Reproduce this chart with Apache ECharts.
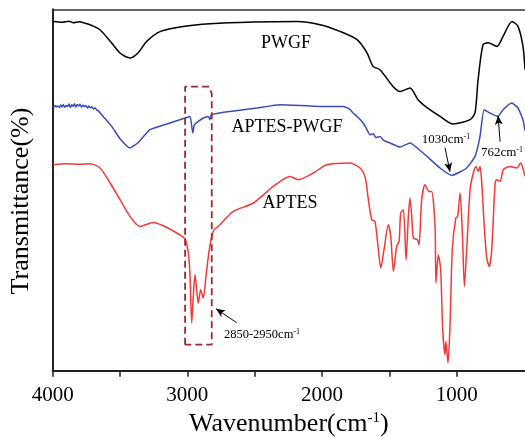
<!DOCTYPE html>
<html><head><meta charset="utf-8">
<script src="https://cdn.jsdelivr.net/npm/echarts@6/dist/echarts.min.js"></script>
<style>html,body{margin:0;padding:0;background:#fff}#c{width:525px;height:437px}</style>
</head><body><div id="c"></div>
<script>
// x: wavenumber (cm-1), y: transmittance (arbitrary offset units)
const xTicks = [4000, 3500, 3000, 2500, 2000, 1500, 1000];
const xLabels = [4000, 3000, 2000, 1000];

const pwgf = [
  [3996,349.3],[3930,348.5],[3880,349.5],[3850,348],[3800,349],[3760,347.5],[3723,346],[3649,341],[3562,327.7],[3500,317.7],
  [3426,312.7],[3367,317.7],[3302,329.3],[3199,339.3],[3032,344.3],[2831,347],
  [2513,348.7],[2186,349.3],[2015,346],[1867,339.3],[1740,331],[1666,317.7],
  [1621,304.3],[1570,301],[1473,284.3],[1421,279.3],[1347,282.7],[1287,271],
  [1220,263],[1124,254.3],[1027,246.7],[901,251],[864,258],[842,290],[805,326],
  [767,328],[701,324.3],[656,334.3],[590,349.3],[545,344.3],[508,324.3],[493,301]
];

const aptesPwgf = [
  [4000,264.3],[3990,263.6],[3982,265.1],[3971,263.9],[3962,264.8],[3950,263.2],[3941,265.6],
  [3930,263.8],[3922,266.3],[3911,263.4],[3900,265.2],[3889,264.1],[3880,266.8],[3868,263.3],
  [3859,265.9],[3850,264.4],[3838,267],[3829,263.6],[3818,266.2],[3806,264.7],[3797,266.5],
  [3786,263.5],[3775,265.6],[3764,264],[3753,265.1],[3741,262.8],[3731,264.6],[3720,262.9],
  [3709,264.1],[3698,261.8],[3686,262.9],[3672,260.6],[3660,259.8],[3646,257.4],[3626,254.3],
  [3562,244.3],[3500,232],
  [3426,222.7],[3367,228],[3277,241],[3129,247.7],[3017,252.7],[2980,254.3],
  [2960,237.7],[2948,246],[2919,249.3],[2882,252.7],[2845,254.3],[2832,251],
  [2821,256],[2683,259.3],[2485,262.7],[2312,266],[2015,264.3],[1844,264.3],
  [1800,262],[1770,257.7],[1730,253],[1695,247.7],[1670,242],[1644,236],[1620,237],[1600,233],
  [1570,234.3],[1540,230],[1495,227.7],[1421,223.7],[1347,227.7],[1250,217.7],
  [1124,202.7],[1037,195.3],[926,202.7],[864,214.3],[827,234.3],[797,261],
  [753,257.7],[694,254.3],[656,261],[592,267.7],[545,262.7],[508,251],[493,240]
];

const aptes = [
  [3996,206],[3900,207],[3800,206.5],[3723,207],[3649,202.7],[3574,187.7],[3500,171],[3426,154.3],
  [3352,144.3],[3253,148.3],[3179,145],[3079,137.7],[3018,131.7],[2993,117.7],
  [2980,94.3],[2968,47.7],[2956,74.3],[2943,96],[2919,67.7],[2901,81],[2882,72.7],
  [2862,94.3],[2837,121],[2807,139.7],[2758,146],[2659,159.3],[2510,167.7],
  [2362,184.3],[2238,194.3],[2176,191],[2065,197.7],[1965,206],[1792,207.7],
  [1718,202.7],[1681,194.3],[1656,171],[1631,151],[1607,149.3],[1582,121],
  [1564,102.7],[1540,121],[1508,146],[1490,134.3],[1470,99.3],[1446,124.3],
  [1428,129.3],[1416,157.7],[1396,161],[1376,111],[1359,154.3],[1347,172.7],
  [1334,154.3],[1322,132.7],[1292,131],[1280,126],[1260,171],[1235,186],
  [1206,179.3],[1186,179.3],[1161,144.3],[1154,87.7],[1137,116],[1119,101],
  [1104,41],[1087,16],[1080,29.3],[1065,7.7],[1050,44.3],[1033,121],[1007,152.7],
  [993,154.3],[975,177.7],[958,137.7],[943,84.3],[926,121],[901,181],[877,197.7],
  [857,204.3],[839,199.3],[827,204.3],[814,187.7],[797,147.7],[777,112.7],
  [758,104.3],[740,121],[715,187.7],[703,191],[678,189.3],[654,201],[604,204.3],
  [554,202.7],[525,207.7],[505,201],[493,194.3]
];

// dashed highlight box around the C-H stretching region
const box = [[3017,26],[3017,284],[2838,284],[2819,277],[2819,26],[3017,26]];

// annotation arrows: [from, to]
const arrows = [
  [[1087,223],[1050,199]],
  [[678,229],[693,255]],
  [[2634,48],[2787,62]]
];

const serif = "'Liberation Serif','Times New Roman',serif";
const chart = echarts.init(document.getElementById('c'), null, {renderer:'canvas'});

function supText(main, sup, tail, size) {
  return {
    text: '{a|' + main + '}{s|' + sup + '}' + (tail ? '{a|' + tail + '}' : ''),
    rich: {
      a: {fontFamily: serif, fontSize: size, color: '#000', lineHeight: size * 1.15},
      s: {fontFamily: serif, fontSize: Math.round(size * 0.6), color: '#000', verticalAlign: 'top', lineHeight: size * 1.15}
    }
  };
}

const lbl1030 = supText('1030cm', '-1', '', 13);
const lbl762 = supText('762cm', '-1', '', 13);
const lbl2850 = supText('2850-2950cm', '-1', '', 12.5);

chart.setOption({
  animation: false,
  backgroundColor: '#fff',
  grid: {left: 52.7, right: 0, top: 9.3, bottom: 66.3, containLabel: false, outerBoundsMode: 'none'},
  xAxis: [{
    type: 'value', inverse: true, min: 493, max: 4000, position: 'bottom',
    name: '{a|Wavenumber(cm}{s|-1}{a|)}', nameLocation: 'middle', nameGap: 38,
    nameTextStyle: {
      rich: {
        a: {fontFamily: serif, fontSize: 26, color: '#000', lineHeight: 28},
        s: {fontFamily: serif, fontSize: 15, color: '#000', verticalAlign: 'top', lineHeight: 28}
      }
    },
    axisLine: {show: true, lineStyle: {color: '#222', width: 2}},
    axisTick: {show: true, inside: false, length: 6, customValues: xTicks, lineStyle: {color: '#222', width: 1.5}},
    axisLabel: {customValues: xLabels, formatter: v => String(v), fontFamily: serif, fontSize: 21, color: '#000', margin: 14},
    splitLine: {show: false}
  }, {
    type: 'value', inverse: true, min: 493, max: 4000, position: 'top',
    axisLine: {show: true, lineStyle: {color: '#333', width: 1.5}},
    axisTick: {show: false}, axisLabel: {show: false}, splitLine: {show: false}
  }],
  yAxis: {
    type: 'value', min: 0, max: 361.4,
    axisLine: {show: true, lineStyle: {color: '#222', width: 2}},
    axisTick: {show: false}, axisLabel: {show: false}, splitLine: {show: false}
  },
  series: [
    {type: 'line', name: 'PWGF', data: pwgf, showSymbol: false, smooth: 0.25, lineStyle: {color: '#000', width: 1.5}},
    {type: 'line', name: 'APTES-PWGF', data: aptesPwgf, showSymbol: false, smooth: 0.15, lineStyle: {color: '#3a4db3', width: 1.5}},
    {type: 'line', name: 'APTES', data: aptes, showSymbol: false, smooth: 0.25, lineStyle: {color: '#f03a3a', width: 1.5}},
    {type: 'line', name: 'box', data: box, showSymbol: false, silent: true,
      lineStyle: {color: '#9a2b2e', width: 1.8, type: [7, 4]},
      markLine: {
        silent: true, animation: false,
        symbol: ['none', 'arrow'], symbolSize: [6, 9],
        lineStyle: {color: '#000', width: 1, type: 'solid'},
        label: {show: false},
        emphasis: {disabled: true},
        data: arrows.map(a => [{coord: a[0]}, {coord: a[1]}])
      }
    }
  ],
  graphic: [
    {type: 'text', x: 286, y: 43, style: {text: 'PWGF', font: '18px ' + serif, fill: '#000', align: 'center', verticalAlign: 'middle'}},
    {type: 'text', x: 287, y: 127, style: {text: 'APTES-PWGF', font: '18px ' + serif, fill: '#000', align: 'center', verticalAlign: 'middle'}},
    {type: 'text', x: 290, y: 203, style: {text: 'APTES', font: '18px ' + serif, fill: '#000', align: 'center', verticalAlign: 'middle'}},
    {type: 'text', x: 446, y: 140, style: Object.assign({align: 'center', verticalAlign: 'middle'}, lbl1030)},
    {type: 'text', x: 502, y: 153, style: Object.assign({align: 'center', verticalAlign: 'middle'}, lbl762)},
    {type: 'text', x: 262, y: 335, style: Object.assign({align: 'center', verticalAlign: 'middle'}, lbl2850)},
    {type: 'text', x: 21, y: 201, rotation: Math.PI / 2,
      style: {text: 'Transmittance(%)', font: '26px ' + serif, fill: '#000', align: 'center', verticalAlign: 'middle'}}
  ]
});
</script>
</body></html>
